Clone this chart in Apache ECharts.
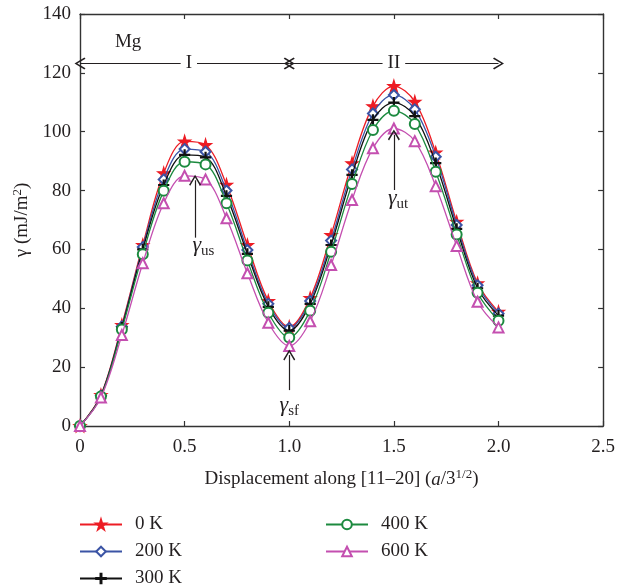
<!DOCTYPE html>
<html>
<head>
<meta charset="utf-8">
<script src="https://cdn.jsdelivr.net/npm/echarts@6/dist/echarts.min.js"></script>
<style>html,body{margin:0;padding:0;background:#fff}#c{width:618px;height:588px}</style>
</head>
<body>
<div id="c"></div>
<script>
const displacement = [0,0.1,0.2,0.3,0.4,0.5,0.6,0.7,0.8,0.9,1.0,1.1,1.2,1.3,1.4,1.5,1.6,1.7,1.8,1.9,2.0];
const seriesNames = ['0 K','200 K','300 K','400 K','600 K'];
const gamma0K   = [0, 10.5, 34.3, 61.5, 85.9, 96.7, 95.5, 82.0, 61.5, 42.5, 33.7, 43.5, 64.9, 89.3, 108.7, 115.5, 110.2, 92.9, 69.4, 48.5, 38.8];
const gamma200K = [0, 10.3, 33.8, 60.8, 83.8, 94.1, 93.2, 80.0, 59.8, 41.5, 33.3, 42.5, 63.0, 87.2, 106.2, 112.5, 107.6, 91.5, 68.3, 47.8, 38.2];
const gamma300K = [0, 10.2, 33.4, 60.0, 81.9, 92.1, 91.3, 78.2, 58.5, 40.5, 32.4, 41.5, 61.5, 85.3, 104.0, 109.9, 105.3, 89.3, 67.0, 46.8, 37.5];
const gamma400K = [0, 10.0, 32.8, 58.4, 79.9, 89.8, 88.9, 75.7, 56.2, 38.5, 30.1, 39.2, 59.2, 82.2, 100.6, 107.1, 102.6, 86.4, 65.1, 45.3, 35.8];
const gamma600K = [0, 9.7, 30.9, 55.3, 75.7, 85.0, 83.8, 70.6, 51.9, 35.1, 27.2, 35.6, 54.7, 76.8, 94.4, 101.1, 96.8, 81.5, 61.2, 42.2, 33.5];
const xTicks = [0, 0.5, 1.0, 1.5, 2.0, 2.5];
const yTicks = [0, 20, 40, 60, 80, 100, 120, 140];

const FONT = '"Liberation Serif", "DejaVu Serif", serif';
const TXT = '#231f20';
const colors = ['#ed1c24', '#3b54a5', '#111111', '#1c8a3f', '#c44fb0'];
const STAR = 'path://M50,0 L61,35 L98,35 L68,57 L79,91 L50,70 L21,91 L32,57 L2,35 L39,35 Z';
const PLUS = 'path://M9,0 H11 V9 H20 V11 H11 V20 H9 V11 H0 V9 H9 Z';
const CHEVRON = 'path://M5,0 L10,9 L9,10 L5,2.5 L1,10 L0,9 Z';
const symbols = [STAR, 'emptyDiamond', PLUS, 'emptyCircle', 'emptyTriangle'];
const symbolSizes = [12, 10, 10, 10, 10];
const allData = [gamma0K, gamma200K, gamma300K, gamma400K, gamma600K];

const series = seriesNames.map((name, i) => ({
  name: name,
  type: 'line',
  smooth: 0.35,
  data: displacement.map((x, j) => [x, allData[i][j]]),
  symbol: symbols[i],
  symbolSize: symbolSizes[i],
  showAllSymbol: true,
  lineStyle: { color: colors[i], width: 1.3 },
  itemStyle: { color: colors[i], borderColor: colors[i], borderWidth: 1.2 },
  z: 3 + i
}));

const arrowLine = { color: TXT, width: 1.2, type: 'solid' };
const boxLabel = { show: true, position: 'inside', color: TXT, fontFamily: FONT, fontSize: 19, backgroundColor: '#fff', padding: [2, 5] };
series.push({
  name: 'annot',
  type: 'line',
  data: [],
  silent: true,
  z: 10,
  markLine: {
    silent: true,
    animation: false,
    z: 10,
    symbol: [CHEVRON, CHEVRON],
    symbolSize: [12, 11],
    lineStyle: arrowLine,
    label: { show: false },
    data: [
      [{ coord: [0, 123.2] }, { coord: [1, 123.2] }],
      [{ coord: [1, 123.2] }, { coord: [2, 123.2] }],
      [{ coord: [0.55, 64], symbol: 'none' }, { coord: [0.55, 83.5], symbol: CHEVRON }],
      [{ coord: [1.5, 80.2], symbol: 'none' }, { coord: [1.5, 98.9], symbol: CHEVRON }],
      [{ coord: [1.0, 12.2], symbol: 'none' }, { coord: [1.0, 24.1], symbol: CHEVRON }]
    ]
  },
  markPoint: {
    silent: true,
    animation: false,
    z: 20,
    symbol: 'circle',
    symbolSize: 0,
    label: {
      show: true,
      position: 'inside',
      color: TXT,
      fontFamily: FONT,
      rich: {
        g: { fontFamily: FONT, fontSize: 22, fontStyle: 'italic', color: TXT },
        s: { fontFamily: FONT, fontSize: 15, color: TXT, padding: [12, 0, 0, 0] },
        m: { fontFamily: FONT, fontSize: 19, color: TXT }
      }
    },
    data: [
      { coord: [0.23, 130.5], label: { formatter: '{m|Mg}' } },
      { coord: [0.52, 123.2], label: Object.assign({ formatter: 'I' }, boxLabel) },
      { coord: [1.5, 123.2], label: Object.assign({ formatter: 'II' }, boxLabel) },
      { coord: [0.59, 61.5], label: { formatter: '{g|γ}{s|us}' } },
      { coord: [1.52, 77.5], label: { formatter: '{g|γ}{s|ut}' } },
      { coord: [1.0, 7], label: { formatter: '{g|γ}{s|sf}' } }
    ]
  }
});

const axisLine = { show: true, onZero: false, lineStyle: { color: '#333', width: 1.4 } };
const tick = { show: true, inside: true, length: 5, lineStyle: { color: '#333', width: 1.2 } };
const legendText = { fontFamily: FONT, fontSize: 19, lineHeight: 19, color: TXT, padding: [0, 0, 0, 8] };

const option = {
  animation: false,
  backgroundColor: '#fff',
  textStyle: { fontFamily: FONT },
  grid: { left: 80, right: 8, top: 14, bottom: 162, containLabel: false },
  legend: [
    {
      data: seriesNames.slice(0, 3),
      orient: 'vertical',
      left: 74, top: 510, height: 120,
      itemWidth: 42, itemHeight: 12, itemGap: 8,
      textStyle: legendText,
      selectedMode: false
    },
    {
      data: seriesNames.slice(3),
      orient: 'vertical',
      left: 320, top: 510, height: 120,
      itemWidth: 42, itemHeight: 12, itemGap: 8,
      textStyle: legendText,
      selectedMode: false
    }
  ],
  xAxis: [
    {
      type: 'value', min: xTicks[0], max: xTicks[xTicks.length - 1], interval: 0.5,
      axisLine: axisLine, axisTick: tick, splitLine: { show: false },
      axisLabel: { color: TXT, fontFamily: FONT, fontSize: 19, margin: 12, formatter: v => v === 0 ? '0' : v.toFixed(1) },
      name: 'Displacement along [11–20] ({i|a}/3{sup|1/2})',
      nameLocation: 'middle', nameGap: 42,
      nameTextStyle: {
        color: TXT, fontFamily: FONT, fontSize: 19,
        rich: {
          i: { fontFamily: FONT, fontSize: 19, fontStyle: 'italic', color: TXT },
          sup: { fontFamily: FONT, fontSize: 13, color: TXT, padding: [0, 0, 10, 0] }
        }
      }
    },
    {
      type: 'value', position: 'top', min: xTicks[0], max: xTicks[xTicks.length - 1], interval: 0.5,
      axisLine: axisLine, axisTick: tick, axisLabel: { show: false }, splitLine: { show: false }
    }
  ],
  yAxis: [
    {
      type: 'value', min: yTicks[0], max: yTicks[yTicks.length - 1], interval: 20,
      axisLine: axisLine, axisTick: tick, splitLine: { show: false },
      axisLabel: { color: TXT, fontFamily: FONT, fontSize: 19, margin: 9 },
      name: 'γ (mJ/m{sup|2})',
      nameLocation: 'middle', nameGap: 33, nameRotate: 90,
      nameTextStyle: {
        color: TXT, fontFamily: FONT, fontSize: 19,
        rich: { sup: { fontFamily: FONT, fontSize: 13, color: TXT, padding: [0, 0, 10, 0] } }
      }
    },
    {
      type: 'value', position: 'right', min: yTicks[0], max: yTicks[yTicks.length - 1], interval: 20,
      axisLine: axisLine, axisTick: tick, axisLabel: { show: false }, splitLine: { show: false }
    }
  ],
  series: series
};

const chart = echarts.init(document.getElementById('c'), null, { renderer: 'canvas' });
chart.setOption(option);
</script>
</body>
</html>
